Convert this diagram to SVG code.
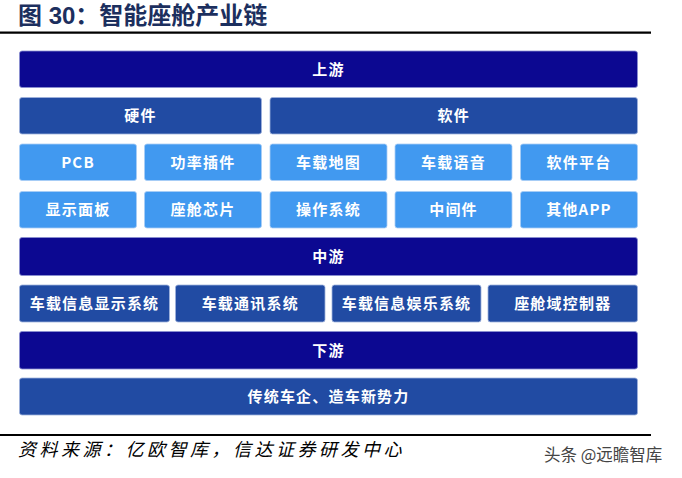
<svg xmlns="http://www.w3.org/2000/svg" width="682" height="478" viewBox="0 0 682 478">
<style>
.t{font-family:"Noto Sans CJK SC","Liberation Sans",sans-serif;font-weight:bold;font-size:15px;fill:#fff;text-anchor:middle;letter-spacing:1.2px}
.dk{fill:#0c0891;stroke:#8a8fd0;stroke-width:0.8}
.md{fill:#214ba3;stroke:#9fb2dc;stroke-width:0.8}
.lt{fill:#4199f0;stroke:#a9cdf5;stroke-width:0.8}
</style>
<rect width="682" height="478" fill="#fff"/>
<text x="18" y="23.5" font-family="'Liberation Sans','Noto Sans CJK SC',sans-serif" font-weight="bold" font-size="24" fill="#1c2f5e">图 30：智能座舱产业链</text>
<line x1="0" y1="32.7" x2="651" y2="32.7" stroke="#000" stroke-width="2.2"/>
<g id="upstream"><rect class="dk" x="19.5" y="51" width="618" height="36.5" rx="2.5"/><text class="t" x="328.5" y="74.8">上游</text></g>
<g id="hardware"><rect class="md" x="19.5" y="97.5" width="242" height="36.5" rx="2.5"/><text class="t" x="140.5" y="121.3">硬件</text></g>
<g id="software"><rect class="md" x="270" y="97.5" width="367.5" height="36.5" rx="2.5"/><text class="t" x="453.75" y="121.3">软件</text></g>
<g id="pcb"><rect class="lt" x="19.5" y="144" width="117" height="36.5" rx="2.5"/><text class="t" x="78" y="167.8">PCB</text></g>
<g id="power"><rect class="lt" x="144.5" y="144" width="117" height="36.5" rx="2.5"/><text class="t" x="203" y="167.8">功率插件</text></g>
<g id="map"><rect class="lt" x="270" y="144" width="117" height="36.5" rx="2.5"/><text class="t" x="328.5" y="167.8">车载地图</text></g>
<g id="voice"><rect class="lt" x="395" y="144" width="117" height="36.5" rx="2.5"/><text class="t" x="453.5" y="167.8">车载语音</text></g>
<g id="platform"><rect class="lt" x="520.5" y="144" width="117" height="36.5" rx="2.5"/><text class="t" x="579" y="167.8">软件平台</text></g>
<g id="panel"><rect class="lt" x="19.5" y="191.5" width="117" height="36.5" rx="2.5"/><text class="t" x="78" y="215.3">显示面板</text></g>
<g id="chip"><rect class="lt" x="144.5" y="191.5" width="117" height="36.5" rx="2.5"/><text class="t" x="203" y="215.3">座舱芯片</text></g>
<g id="os"><rect class="lt" x="270" y="191.5" width="117" height="36.5" rx="2.5"/><text class="t" x="328.5" y="215.3">操作系统</text></g>
<g id="middleware"><rect class="lt" x="395" y="191.5" width="117" height="36.5" rx="2.5"/><text class="t" x="453.5" y="215.3">中间件</text></g>
<g id="app"><rect class="lt" x="520.5" y="191.5" width="117" height="36.5" rx="2.5"/><text class="t" x="579" y="215.3">其他APP</text></g>
<g id="midstream"><rect class="dk" x="19.5" y="237.5" width="618" height="38" rx="2.5"/><text class="t" x="328.5" y="262">中游</text></g>
<g id="display"><rect class="md" x="19.5" y="285" width="150" height="37" rx="2.5"/><text class="t" x="94.5" y="309">车载信息显示系统</text></g>
<g id="comm"><rect class="md" x="175.5" y="285" width="149.5" height="37" rx="2.5"/><text class="t" x="250.25" y="309">车载通讯系统</text></g>
<g id="ent"><rect class="md" x="332" y="285" width="149" height="37" rx="2.5"/><text class="t" x="406.5" y="309">车载信息娱乐系统</text></g>
<g id="domain"><rect class="md" x="488" y="285" width="149.5" height="37" rx="2.5"/><text class="t" x="562.75" y="309">座舱域控制器</text></g>
<g id="downstream"><rect class="dk" x="19.5" y="331.5" width="618" height="37.5" rx="2.5"/><text class="t" x="328.5" y="355.8">下游</text></g>
<g id="oem"><rect class="md" x="19.5" y="378" width="618" height="37" rx="2.5"/><text class="t" x="328.5" y="402">传统车企、造车新势力</text></g>
<g id="connectors"></g>
<line x1="0" y1="435" x2="651" y2="435" stroke="#000" stroke-width="2"/>
<text x="18" y="456" font-family="'Noto Sans CJK SC',sans-serif" font-style="italic" font-size="18" letter-spacing="3.5" fill="#000">资料来源：亿欧智库，信达证券研发中心</text>
<text x="544" y="461" font-family="'Noto Sans CJK SC',sans-serif" font-size="16.5" fill="#444">头条 @远瞻智库</text>
</svg>
